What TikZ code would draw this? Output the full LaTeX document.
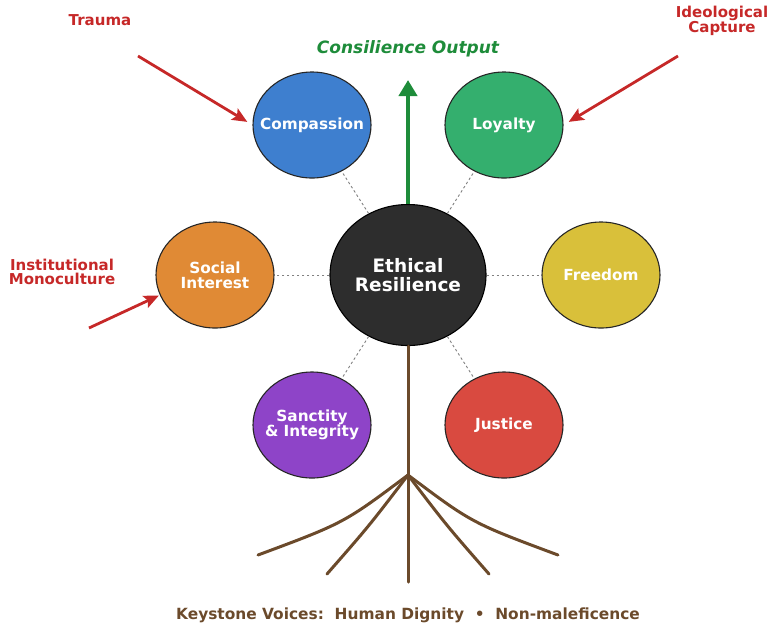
\documentclass[tikz,border=0pt]{standalone}
\usepackage{fontspec}
\setmainfont{DejaVu Sans}
\usetikzlibrary{shapes.geometric,arrows.meta}

\definecolor{coreGray}{HTML}{2D2D2D}
\definecolor{compBlue}{HTML}{3E7FCF}
\definecolor{loyGreen}{HTML}{34AF6E}
\definecolor{socOrange}{HTML}{E08A35}
\definecolor{freeYellow}{HTML}{D9C03A}
\definecolor{sancPurple}{HTML}{8E44C8}
\definecolor{justRed}{HTML}{D94A40}
\definecolor{threatRed}{HTML}{C62828}
\definecolor{outGreen}{HTML}{1E8C3A}
\definecolor{rootBrown}{HTML}{6B4A2B}

\begin{document}
\begin{tikzpicture}
   [x=1pt,y=-1pt,
    virtue/.style={ellipse,draw=black!85,line width=1.1pt,minimum width=118pt,minimum height=106pt,inner sep=0pt},
    vtext/.style={align=center,text=white,font=\bfseries\fontsize{15.3}{15}\selectfont},
    link/.style={black!50,line width=0.9pt,dash pattern=on 2.5pt off 2.5pt},
    threat/.style={text=threatRed,align=center,font=\bfseries\fontsize{15}{14}\selectfont},
    hit/.style={-{Stealth[length=15pt,width=13pt,inset=3pt]},threatRed,line width=2.8pt},
    root/.style={rootBrown,line width=3pt,line cap=round}]

\useasboundingbox (0,0) rectangle (773,625);

% core and the six virtues
\node [virtue,draw=black,fill=coreGray,minimum width=156pt,minimum height=141pt,
  label={[vtext,font=\bfseries\fontsize{18.5}{19}\selectfont]center:Ethical\\Resilience}] (core) at (408,275) {};
\node [virtue,fill=compBlue,label={[vtext]center:Compassion}] (comp) at (312,125) {};
\node [virtue,fill=loyGreen,label={[vtext]center:Loyalty}] (loy) at (504,125) {};
\node [virtue,fill=socOrange,label={[vtext]center:Social\\Interest}] (soc) at (215,275) {};
\node [virtue,fill=freeYellow,label={[vtext]center:Freedom}] (free) at (601,275) {};
\node [virtue,fill=sancPurple,label={[vtext]center:Sanctity\\\& Integrity}] (sanc) at (312,425) {};
\node [virtue,fill=justRed,label={[vtext]center:Justice}] (just) at (504,425) {};

\foreach \v in {comp,loy,soc,free,sanc,just}
  \draw [link] (core) -- (\v);

% output arrow
\coordinate (out) at (408,80);
\draw [-{Triangle[length=16pt,width=18pt]},outGreen,line width=4.5pt] (core.north) -- (out);
\node [text=outGreen,font=\bfseries\itshape\fontsize{17}{16}\selectfont] (title) at (408,49) {Consilience Output};

% threats
\node [threat] (trauma) at (100,20) {Trauma};
\node [threat] (capture) at (722,21) {Ideological\\Capture};
\node [threat] (mono) at (62,272) {Institutional\\Monoculture};
\coordinate (t1) at (138,56);
\coordinate (t2) at (678,56);
\coordinate (t3) at (89,328);
\draw [hit,shorten >=6pt] (t1) -- (comp.west);
\draw [hit,shorten >=6pt] (t2) -- (loy.east);
\draw [hit,shorten >=1pt] (t3) -- (soc.200);

% trunk and roots
\coordinate (knot) at (408,475);
\coordinate (r1) at (258,555);
\coordinate (r2) at (327,574);
\coordinate (r3) at (408,582);
\coordinate (r4) at (489,574);
\coordinate (r5) at (558,555);
\draw [root] (core.south) -- (knot);
\draw [root] (knot) .. controls (344,523) .. (r1);
\draw [root] (knot) .. controls (369,526) .. (r2);
\draw [root] (knot) -- (r3);
\draw [root] (knot) .. controls (447,526) .. (r4);
\draw [root] (knot) .. controls (472,523) .. (r5);

\node [text=rootBrown,font=\bfseries\fontsize{15.4}{15}\selectfont] (keys) at (408,615)
  {Keystone Voices:\ \ Human Dignity\ \ \textbullet\ \ Non-maleficence};
\end{tikzpicture}
\end{document}
